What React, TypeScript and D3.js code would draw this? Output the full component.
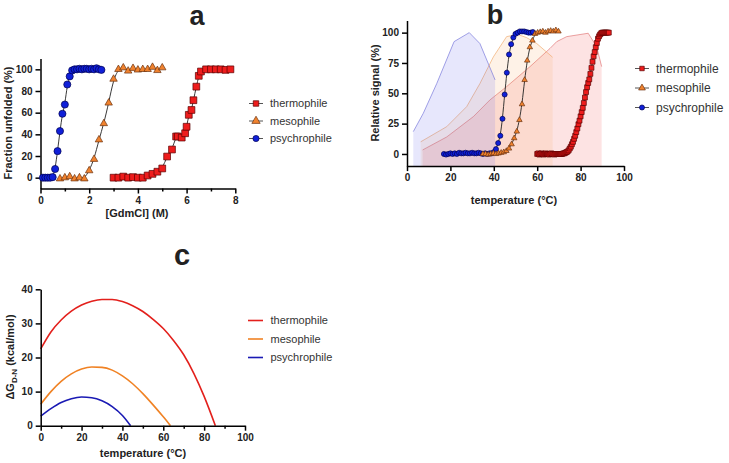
import React, { useEffect, useRef } from 'react';
import * as d3 from 'd3';

type Pt = [number, number];

// ---- panel a: fraction unfolded vs [GdmCl] (M)
const thermoA: Pt[] = [
  [3.0, 0], [3.2, 0], [3.4, 1], [3.6, 0], [3.8, 0.5], [4.0, 0], [4.2, 0], [4.4, 2], [4.6, 3.5],
  [4.8, 5.5], [5.0, 8.5], [5.2, 19.5], [5.4, 26], [5.57, 38], [5.64, 38], [5.8, 37], [5.94, 41],
  [6.0, 47], [6.09, 58], [6.2, 62.5], [6.28, 71.5], [6.4, 84], [6.5, 94], [6.59, 98], [6.8, 100],
  [7.0, 100], [7.2, 100], [7.4, 100], [7.6, 99.5], [7.8, 100],
];
const mesoA: Pt[] = [
  [0.8, -1], [1.0, 0], [1.2, 1], [1.4, -1], [1.6, 0], [1.8, -1], [2.0, 6.5], [2.2, 17], [2.4, 35],
  [2.6, 50], [2.8, 69], [3.0, 91], [3.2, 100], [3.4, 101.5], [3.6, 98.5], [3.8, 101], [4.0, 99.5],
  [4.2, 100], [4.4, 100], [4.6, 102], [4.8, 99], [5.0, 101.5],
];
const psychroA: Pt[] = [
  [0.1, 0], [0.2, 0], [0.3, 0], [0.4, 0], [0.5, 0.5], [0.6, 8], [0.7, 24.5], [0.8, 43], [0.9, 59],
  [1.0, 67.5], [1.1, 86], [1.2, 93.5], [1.3, 99], [1.4, 100], [1.5, 100], [1.6, 100.5], [1.7, 100],
  [1.8, 100.5], [1.9, 100.5], [2.0, 100], [2.1, 100.5], [2.2, 100], [2.3, 101], [2.4, 100], [2.5, 99.5],
];

// ---- panel b: relative signal vs temperature
const thermoB: Pt[] = [
  [60, 0], [60.5, 0.5], [61, -0.5], [61.5, 0], [62, 0.5], [62.5, 0], [63, -0.5], [63.5, 0], [64, 0.5],
  [64.5, 0], [65, 0], [65.5, -0.5], [66, 0], [66.5, 0.5], [67, 0], [67.5, 0], [68, -0.5], [68.5, 0],
  [69, 0], [69.5, 0], [70, 0], [70.5, 0], [71, 0], [71.5, 0], [72, 0.5], [72.5, 0.5], [73, 1],
  [73.5, 1.5], [74, 2], [74.5, 3], [75, 4.5], [75.5, 6], [76, 8], [76.5, 10], [77, 12.5], [77.5, 15],
  [78, 18], [78.5, 21], [79, 24.5], [79.5, 27.5], [80, 31], [80.5, 34.5], [81, 38], [81.5, 42],
  [82, 46.5], [82.5, 51], [83, 55], [83.5, 58.5], [84, 61.5], [84.5, 66], [85, 71], [85.5, 76],
  [86, 80.5], [86.5, 84], [87, 88], [87.5, 91.5], [88, 95], [88.5, 97], [89, 98.5], [89.5, 99.5],
  [90, 100], [90.5, 100], [91, 100], [91.5, 100], [92, 100], [92.5, 100], [93, 100],
];
const mesoB: Pt[] = [
  [35.0, 0], [36.2, 0], [37.4, -0.5], [38.6, 0], [39.8, 0.5], [41.0, 0], [42.2, 0.5], [43.4, 1],
  [44.6, 1.5], [45.8, 2.5], [47.0, 4.5], [48.2, 8], [49.4, 13], [50.6, 18.5], [51.8, 28], [53.0, 41],
  [54.2, 61], [55.4, 77], [56.6, 88], [57.8, 93.5], [59.0, 99], [60.2, 100], [61.4, 100.5],
  [62.6, 101], [63.8, 100], [65.0, 101], [66.2, 101.5], [67.4, 101], [68.6, 102], [69.8, 101],
];
const psychroB: Pt[] = [
  [17, 0], [18, -0.5], [19, 0], [20, 0.5], [21, 0], [22, 0.5], [23, 0], [24, 1], [25, 0.5], [26, 0.5],
  [27, 1], [28, 0.5], [29, 0.5], [30, 1], [31, 0.5], [32, 0.5], [33, 1], [34, 0.5], [35, 0], [36, 0.5],
  [37, 0], [38, 0.5], [39, 0.5], [40, 1.5], [41, 4], [42, 9], [43, 15], [44, 29], [45, 49], [46, 67],
  [47, 82], [48, 90.5], [49, 96], [50, 99], [51, 100], [52, 101], [53, 101], [54, 101], [55, 100.5],
  [56, 100], [57, 100], [58, 100.5],
];
// background spectra shading in panel b
const shadeThermoB: Pt[] = [
  [7.2, 3.3], [18.3, 14], [30.6, 30.8], [38.2, 44.5], [45.9, 55.5], [56.7, 72], [65.9, 87], [69, 92.6],
  [73.6, 96.7], [83.5, 99.5], [87.4, 88.4], [89.7, 72],
];
const shadeMesoB: Pt[] = [
  [6.3, 10], [18.3, 22.5], [27.5, 39], [33.6, 58], [39.8, 80], [45.9, 96.7], [51, 98.5], [55, 96],
  [59.8, 91], [67.1, 79.7],
];
const shadePsychroB: Pt[] = [
  [2.9, 18.4], [7.5, 33.5], [13.7, 58], [21.7, 92.6], [28.7, 100], [33.6, 91], [40.6, 61],
];

// ---- panel c: stability curves
const thermoC: Pt[] = [
  [0, 22.5], [5, 27.5], [10, 31], [15, 33.6], [20, 35.4], [25, 36.5], [30, 37], [35, 37], [40, 36.4],
  [45, 35.2], [50, 33.5], [55, 31.2], [60, 28.5], [65, 25], [70, 20.8], [75, 15.3], [80, 8.6],
  [85.5, 0],
];
const mesoC: Pt[] = [
  [0, 6.3], [5, 10], [10, 13], [15, 15.2], [20, 16.6], [25, 17.2], [30, 17.1], [35, 16.3], [40, 14.6],
  [45, 12.3], [50, 9.4], [55, 6.1], [60, 2.6], [63.5, 0],
];
const psychroC: Pt[] = [
  [0, 2.8], [5, 5], [10, 6.8], [15, 7.9], [20, 8.4], [25, 8.2], [30, 7.3], [35, 5.6], [40, 3], [44, 0],
];

const names = ['thermophile', 'mesophile', 'psychrophile'];

const ticksAx = [0, 2, 4, 6, 8];
const minorAx = [1, 3, 5, 7];
const ticksAy = [0, 20, 40, 60, 80, 100];
const ticksBx = [0, 20, 40, 60, 80, 100];
const ticksBy = [0, 25, 50, 75, 100];
const ticksCx = [0, 20, 40, 60, 80, 100];
const minorCx = [10, 30, 50, 70, 90];
const ticksCy = [0, 10, 20, 30, 40];

const FONT = 'Arial, "Liberation Sans", Helvetica, sans-serif';

const markerStyle: Record<string, { fill: string; stroke: string; shape: d3.SymbolType }> = {
  thermophile: { fill: '#ee1c1c', stroke: '#5a0000', shape: d3.symbolSquare },
  mesophile: { fill: '#f0822e', stroke: '#6b3210', shape: d3.symbolTriangle },
  psychrophile: { fill: '#1020d8', stroke: '#000050', shape: d3.symbolCircle },
};
const lineColors: Record<string, string> = {
  thermophile: '#e3201c',
  mesophile: '#f08224',
  psychrophile: '#1a1ab4',
};

function styleAxis(g: d3.Selection<SVGGElement, unknown, null, undefined>) {
  g.select('.domain').attr('stroke', '#000').attr('stroke-width', 1.5);
  g.selectAll('.tick line').attr('stroke', '#000').attr('stroke-width', 1.5);
  g.selectAll('.tick text')
    .attr('font-family', FONT)
    .attr('font-size', 10)
    .attr('font-weight', 'bold')
    .attr('fill', '#222');
}

export default function App() {
  const svgRef = useRef<SVGSVGElement>(null);

  useEffect(() => {
    if (!svgRef.current) return;
    const svg = d3.select(svgRef.current);
    svg.selectAll('*').remove();

    const addAxes = (
      x: d3.ScaleLinear<number, number>,
      y: d3.ScaleLinear<number, number>,
      xt: number[],
      yt: number[],
      xMinor: number[],
      y0: number
    ) => {
      const gx = svg.append('g').attr('transform', `translate(0,${y(y0)})`)
        .call(d3.axisBottom(x).tickValues(xt).tickSize(5).tickSizeOuter(0).tickPadding(3));
      styleAxis(gx);
      if (xMinor.length) {
        const gm = svg.append('g').attr('transform', `translate(0,${y(y0)})`)
          .call(d3.axisBottom(x).tickValues(xMinor).tickSize(3).tickFormat(() => ''));
        gm.select('.domain').remove();
        gm.selectAll('.tick line').attr('stroke', '#000').attr('stroke-width', 1.5);
      }
      const gy = svg.append('g').attr('transform', `translate(${x(x.domain()[0])},0)`)
        .call(d3.axisLeft(y).tickValues(yt).tickSize(5).tickSizeOuter(0).tickPadding(3));
      styleAxis(gy);
    };

    const addText = (t: string, x: number, y: number, size: number, weight: string, rotate = false) => {
      const el = svg.append('text')
        .attr('font-family', FONT)
        .attr('font-size', size)
        .attr('font-weight', weight)
        .attr('fill', '#222')
        .attr('text-anchor', 'middle')
        .text(t);
      if (rotate) el.attr('transform', `translate(${x},${y}) rotate(-90)`);
      else el.attr('x', x).attr('y', y);
      return el;
    };

    const drawMarkers = (
      data: Pt[], x: d3.ScaleLinear<number, number>, y: d3.ScaleLinear<number, number>,
      name: string, size: number
    ) => {
      const st = markerStyle[name];
      svg.append('g').selectAll('path').data(data).join('path')
        .attr('transform', d => `translate(${x(d[0])},${y(d[1])})`)
        .attr('d', d3.symbol(st.shape, size)())
        .attr('fill', st.fill)
        .attr('stroke', st.stroke)
        .attr('stroke-width', 0.7);
    };

    const drawFit = (data: Pt[], x: d3.ScaleLinear<number, number>, y: d3.ScaleLinear<number, number>) => {
      const line = d3.line<Pt>().x(d => x(d[0])).y(d => y(d[1])).curve(d3.curveBasis);
      svg.append('path').datum(data)
        .attr('fill', 'none').attr('stroke', '#222').attr('stroke-width', 0.9)
        .attr('d', line);
    };

    const drawLegend = (x0: number, rows: number[], size: number, fontSize: number, kind: 'marker' | 'line') => {
      names.forEach((n, i) => {
        const yy = rows[i];
        if (kind === 'marker') {
          svg.append('line').attr('x1', x0 - 7).attr('x2', x0 + 7).attr('y1', yy).attr('y2', yy)
            .attr('stroke', '#555').attr('stroke-width', 1);
          const st = markerStyle[n];
          svg.append('path').attr('transform', `translate(${x0},${yy})`)
            .attr('d', d3.symbol(st.shape, size)())
            .attr('fill', st.fill).attr('stroke', st.stroke).attr('stroke-width', 0.7);
        } else {
          svg.append('line').attr('x1', x0 - 7.5).attr('x2', x0 + 7.5).attr('y1', yy).attr('y2', yy)
            .attr('stroke', lineColors[n]).attr('stroke-width', 1.6);
        }
        svg.append('text').attr('x', x0 + (kind === 'marker' ? 14 : 15)).attr('y', yy).attr('dy', '0.35em')
          .attr('font-family', FONT).attr('font-size', fontSize).attr('fill', '#333').text(n);
      });
    };

    // ================= panel a
    const xA = d3.scaleLinear().domain([0, 8]).range([40.5, 235.3]);
    const yA = d3.scaleLinear().domain([-10, 110]).range([188.5, 58.5]);
    addAxes(xA, yA, ticksAx, ticksAy, minorAx, -10);
    addText('a', 197, 25, 27, 'bold');
    addText('[GdmCl] (M)', 137, 217, 11, 'bold');
    addText('Fraction unfolded (%)', 12, 123, 11, 'bold', true);
    const seriesA: Record<string, Pt[]> = { thermophile: thermoA, mesophile: mesoA, psychrophile: psychroA };
    ['psychrophile', 'mesophile', 'thermophile'].forEach(n => drawFit(seriesA[n], xA, yA));
    drawMarkers(psychroA, xA, yA, 'psychrophile', 40);
    drawMarkers(mesoA, xA, yA, 'mesophile', 24);
    drawMarkers(thermoA, xA, yA, 'thermophile', 46);
    drawLegend(256, [103.5, 121, 138.5], 30, 11, 'marker');

    // ================= panel b
    const xB = d3.scaleLinear().domain([0, 100]).range([407, 624]);
    const yB = d3.scaleLinear().domain([-10, 110]).range([166.1, 20.5]);
    const shades: [Pt[], string, string][] = [
      [shadeThermoB, 'rgba(240,80,80,0.16)', 'rgba(220,100,100,0.75)'],
      [shadeMesoB, 'rgba(250,165,95,0.15)', 'rgba(240,170,110,0.85)'],
      [shadePsychroB, 'rgba(110,110,235,0.17)', 'rgba(110,110,215,0.8)'],
    ];
    shades.forEach(([d, fill, stroke]) => {
      const area = d3.area<Pt>().x(p => xB(p[0])).y0(yB(-10)).y1(p => yB(p[1]));
      const line = d3.line<Pt>().x(p => xB(p[0])).y(p => yB(p[1]));
      svg.append('path').datum(d).attr('fill', fill).attr('stroke', 'none').attr('d', area);
      svg.append('path').datum(d).attr('fill', 'none').attr('stroke', stroke).attr('stroke-width', 0.8).attr('d', line);
    });
    addAxes(xB, yB, ticksBx, ticksBy, [], -10);
    addText('b', 495, 24, 27, 'bold');
    addText('temperature (°C)', 514, 204, 11, 'bold');
    addText('Relative signal (%)', 379, 93, 11, 'bold', true);
    const seriesB: Record<string, Pt[]> = { thermophile: thermoB, mesophile: mesoB, psychrophile: psychroB };
    ['psychrophile', 'mesophile', 'thermophile'].forEach(n => drawFit(seriesB[n], xB, yB));
    drawMarkers(psychroB, xB, yB, 'psychrophile', 20);
    drawMarkers(mesoB, xB, yB, 'mesophile', 13);
    drawMarkers(thermoB, xB, yB, 'thermophile', 24);
    drawLegend(642, [68.5, 88, 107.5], 20, 12, 'marker');

    // ================= panel c
    const xC = d3.scaleLinear().domain([0, 100]).range([40.7, 245]);
    const yC = d3.scaleLinear().domain([0, 40]).range([425.7, 289.3]);
    const seriesC: Record<string, Pt[]> = { thermophile: thermoC, mesophile: mesoC, psychrophile: psychroC };
    names.forEach(n => {
      const line = d3.line<Pt>().x(p => xC(p[0])).y(p => yC(p[1])).curve(d3.curveMonotoneX);
      svg.append('path').datum(seriesC[n]).attr('fill', 'none')
        .attr('stroke', lineColors[n]).attr('stroke-width', 1.6).attr('d', line);
    });
    addAxes(xC, yC, ticksCx, ticksCy, minorCx, 0);
    addText('c', 182, 265, 29, 'bold');
    addText('temperature (°C)', 143, 457, 11, 'bold');
    const yl = addText('', 14, 357, 11, 'bold', true);
    yl.append('tspan').text('ΔG');
    yl.append('tspan').attr('font-size', 8).attr('dy', 3).text('D-N');
    yl.append('tspan').attr('dy', -3).text(' (kcal/mol)');
    drawLegend(255.5, [320.5, 339, 357.5], 0, 11, 'line');
  }, []);

  return (
    <div style={{ position: 'absolute', left: 0, top: 0, width: 729, height: 463, background: '#fff' }}>
      <svg ref={svgRef} width={729} height={463} style={{ display: 'block' }} />
    </div>
  );
}
